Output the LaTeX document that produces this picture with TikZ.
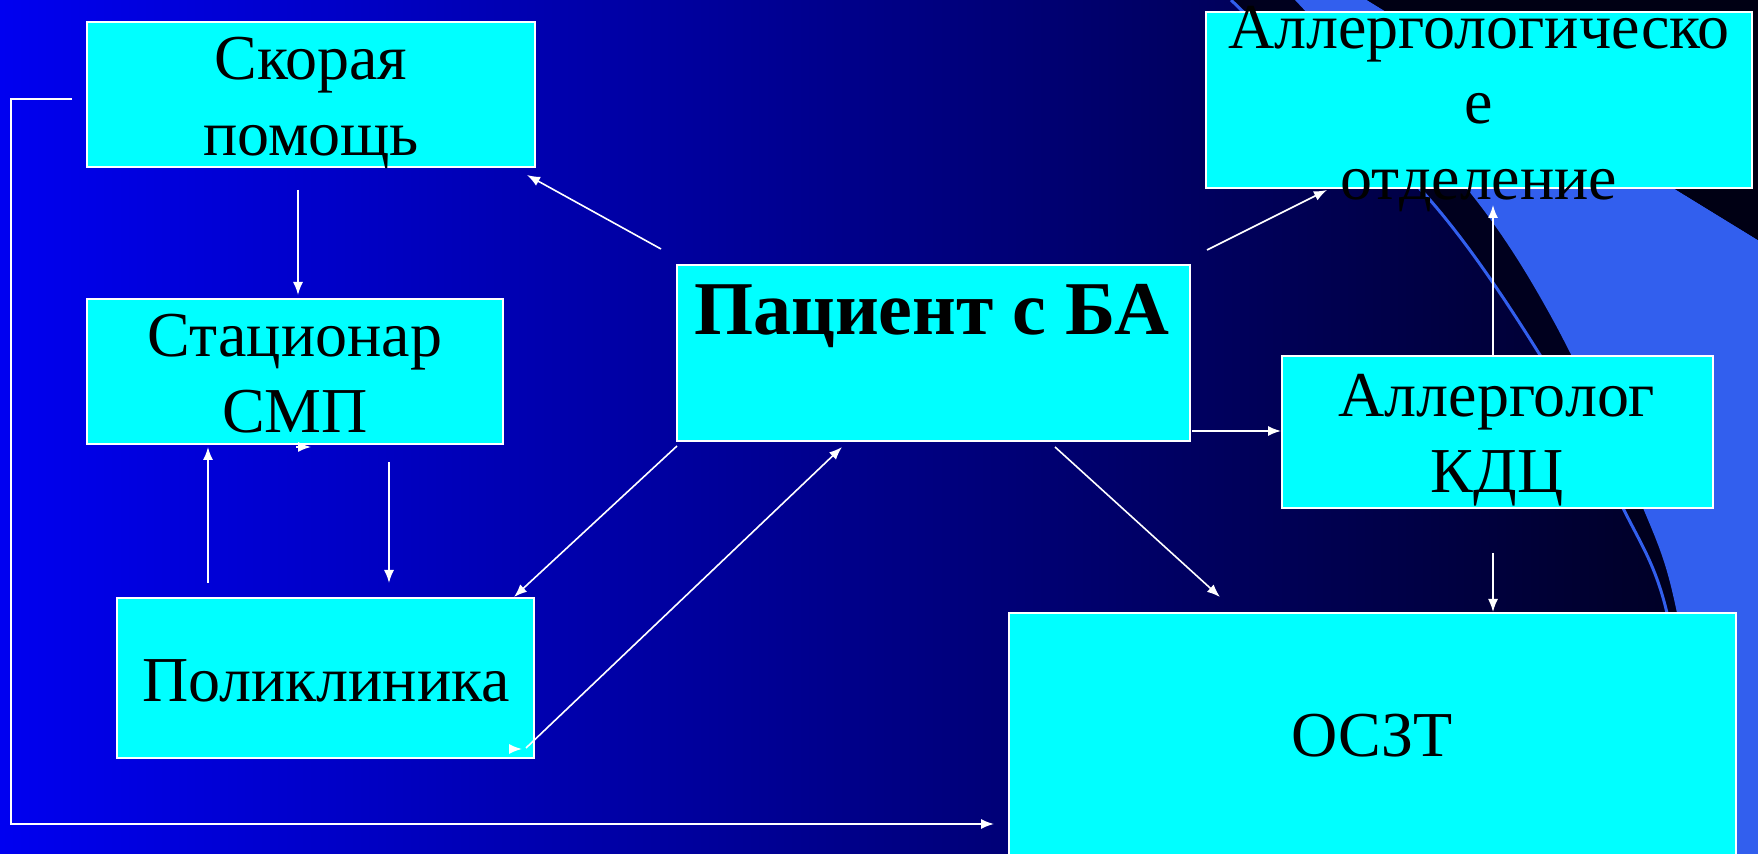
\documentclass[tikz,border=0pt]{standalone}
\usepackage{fontspec}
\setmainfont{Liberation Serif}
\usetikzlibrary{arrows.meta,calc}

\definecolor{bgleft}{RGB}{0,0,240}
\definecolor{bgright}{RGB}{0,0,28}
\definecolor{band}{RGB}{0,0,30}
\definecolor{corner}{RGB}{0,0,20}
\definecolor{swoosh}{RGB}{50,95,238}
\definecolor{boxcyan}{RGB}{0,255,255}

\tikzset{
  box/.style={draw=white, line width=1pt, fill=boxcyan, inner sep=0pt, outer sep=0pt},
  txt/.style={font=\fontsize{32}{38}\selectfont, text=black, inner sep=0pt, anchor=base},
  bigtxt/.style={font=\fontsize{38}{45}\selectfont\bfseries, text=black, inner sep=0pt, anchor=base},
  arr/.style={draw=white, line width=0.8pt, -{Latex[length=6.5pt,width=5pt]}},
}

\begin{document}
\begin{tikzpicture}[x=0.5pt, y=-0.5pt]
  \useasboundingbox (0,0) rectangle (1758,854);
  \clip (0,0) rectangle (1758,854);

  % background
  \shade[left color=bgleft, right color=bgright] (0,0) rectangle (1758,854);

  % decorative swoosh on the right
  \fill[band] plot[smooth] coordinates {(1231,0) (1430,200) (1540,355) (1623,508) (1667,613) (1705,854)}
    -- (1758,854) -- (1758,0) -- cycle;
  \fill[swoosh] plot[smooth] coordinates {(1295,0) (1468,190) (1553,320) (1643,508) (1677,613) (1715,854)}
    -- (1758,854) -- (1758,240) -- (1367,0) -- cycle;
  \fill[corner] (1367,0) -- (1758,240) -- (1758,0) -- cycle;
  \draw[swoosh, line width=1.5pt] plot[smooth] coordinates {(1231,0) (1430,200) (1540,355) (1623,508) (1667,613) (1705,854)};

  % boxes
  \node[box, minimum width=224pt,   minimum height=72.5pt] (sk)  at (311,94.5)   {};
  \node[box, minimum width=208pt,   minimum height=72.5pt] (st)  at (295,371.5)  {};
  \node[box, minimum width=208.5pt, minimum height=80pt]   (pol) at (325.5,678)  {};
  \node[box, minimum width=256.5pt, minimum height=88pt]   (pac) at (933.5,353)  {};
  \node[box, minimum width=273pt,   minimum height=88pt]   (ao)  at (1479,100)   {};
  \node[box, minimum width=215.5pt, minimum height=76pt]   (ak)  at (1497.5,432) {};
  \node[box, minimum width=363.5pt, minimum height=124pt]  (os)  at (1372.5,737) {};

  % connectors
  \draw[arr] ($(pac.north west)+(-16,-16)$) -- ($(sk.south east)+(-8,8)$);
  \draw[arr] ($(sk.south)+(-13,23)$) -- ($(st.north)+(3,-4)$);
  \draw[arr] ($(st.south)+(1,3)$) -- ($(st.south)+(16,3)$);
  \draw[arr] ($(pol.north west)+(91,-15)$) -- ($(st.south west)+(121,3)$);
  \draw[arr] ($(st.south west)+(302,18)$) -- ($(pol.north west)+(272,-15)$);
  \draw[arr] ($(pac.south west)+(0,5)$) -- ($(pol.north east)+(-20,-1)$);
  \draw[arr] ($(pol.south east)+(-8,-10)$) -- ($(pac.south west)+(165,6)$);
  \draw[arr] ($(pol.south east)+(-24,-9)$) -- ($(pol.south east)+(-12,-9)$);
  \draw[arr] ($(pac.south west)+(378,6)$) -- ($(os.north west)+(211,-16)$);
  \draw[arr] ($(pac.south east)+(2,-10)$) -- ($(ak.west)+(-1,-1)$);
  \draw[arr] ($(pac.north east)+(17,-15)$) -- ($(ao.south west)+(121,2)$);
  \draw[arr] ($(ak.north)+(-4.5,-1)$) -- ($(ao.south)+(14,17)$);
  \draw[arr] ($(ak.south)+(-4.5,45)$) -- ($(os.north west)+(484,-1)$);
  \coordinate (lc) at (11,824);
  \draw[arr] ($(sk.west)+(-15,4.5)$) -| (lc) -- ($(os.west |- lc)+(-15,0)$);

  % labels
  \node[txt] (sk1) at (311,80) {Скорая};
  \node[txt] (sk2) at (311,156) {помощь};
  \node[txt] (st1) at (295,357) {Стационар};
  \node[txt] (st2) at (295,433) {СМП};
  \node[txt] (pol1) at (326,702) {Поликлиника};
  \node[bigtxt] (pac1) at (932,335) {Пациент с БА};
  \node[txt] (ao1) at (1479,49) {Аллергологическо};
  \node[txt] (ao2) at (1479,124) {е};
  \node[txt] (ao3) at (1479,200) {отделение};
  \node[txt] (ak1) at (1497,417) {Аллерголог};
  \node[txt] (ak2) at (1497,493) {КДЦ};
  \node[txt] (os1) at (1372,757) {ОСЗТ};
\end{tikzpicture}
\end{document}
